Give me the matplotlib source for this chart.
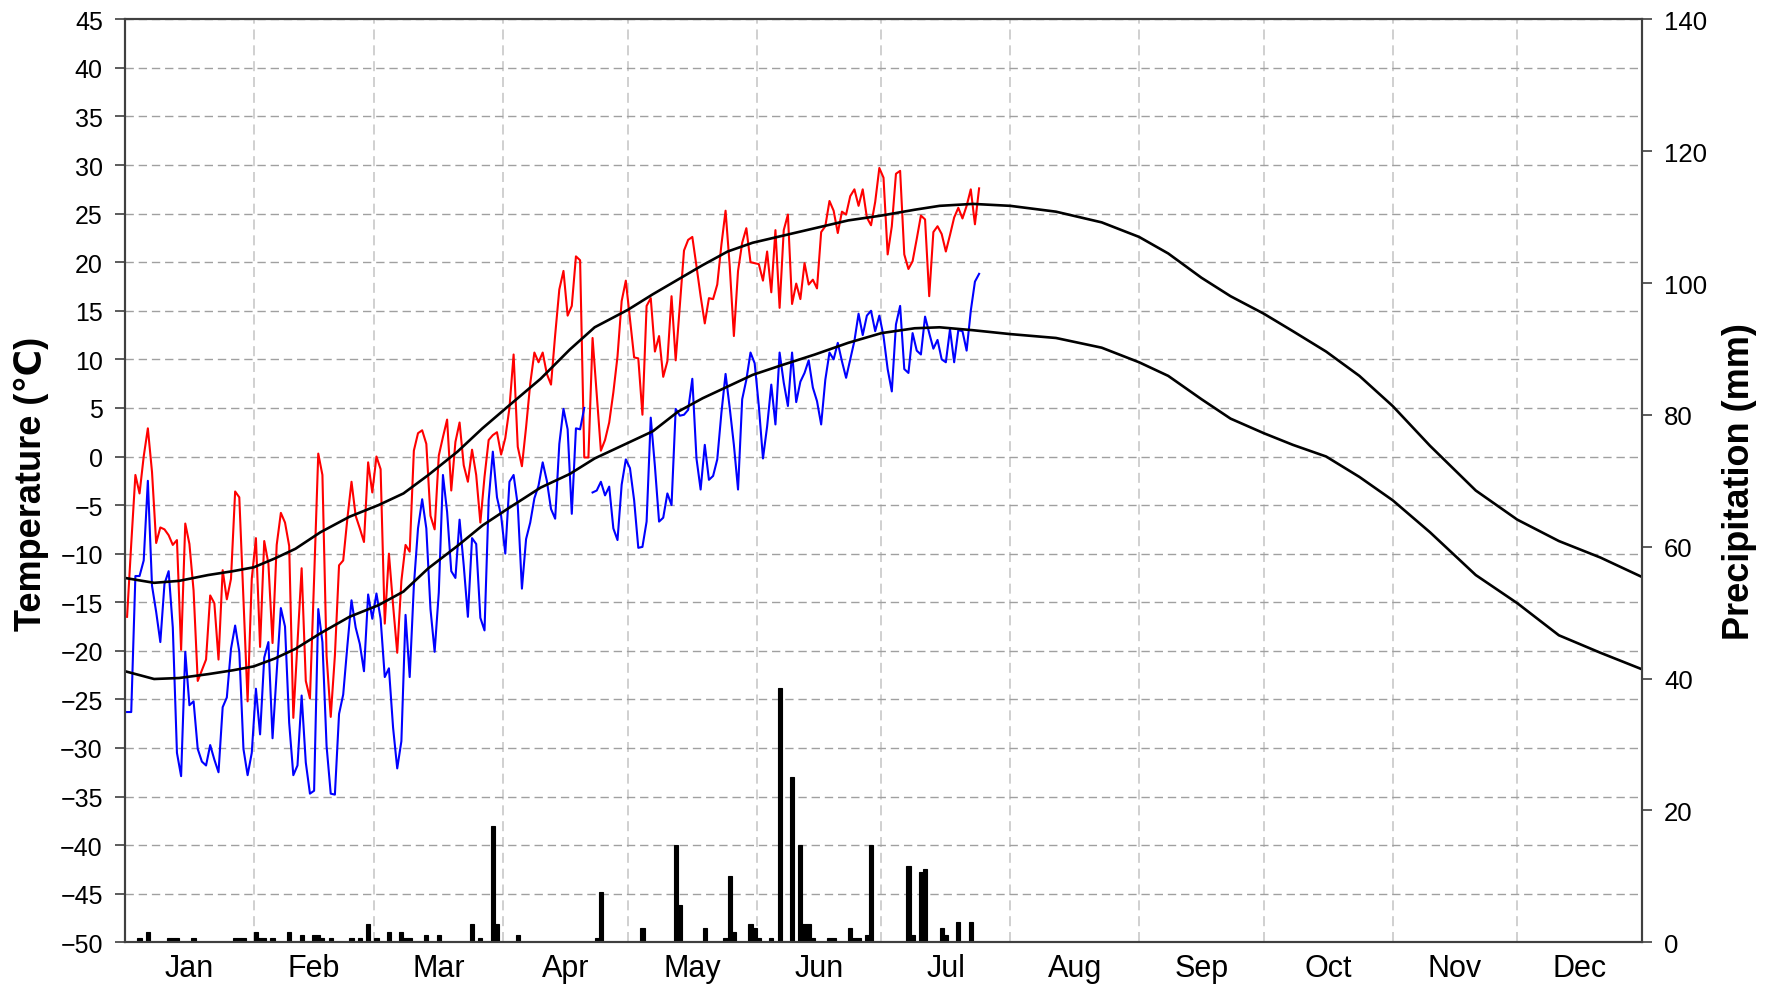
#daily temperature and precipitation for one station, with long-term normals
import numpy as np
import matplotlib
matplotlib.use('Agg')
import matplotlib.pyplot as plt

plt.rcParams['font.family'] = ['Liberation Sans', 'DejaVu Sans']

#daily maximum temperature from Jan 1 (degC)
tmax = [-16.5, -9.0, -1.9, -3.8, 0.0, 2.9, -1.6, -8.9, -7.3, -7.5,
        -8.1, -9.1, -8.6, -19.9, -6.9, -9.0, -13.8, -23.1, -22.0, -20.9,
        -14.3, -15.1, -20.9, -11.7, -14.7, -12.6, -3.6, -4.2, -14.7, -25.2,
        -12.6, -8.4, -19.6, -8.7, -11.0, -19.2, -9.1, -5.8, -6.8, -9.2,
        -26.9, -19.1, -11.5, -23.1, -24.9, -12.6, 0.3, -1.9, -20.5, -26.8,
        -20.5, -11.2, -10.7, -6.4, -2.6, -6.1, -7.4, -8.8, -0.6, -3.7,
        0.0, -1.3, -17.2, -10.0, -15.3, -20.2, -12.8, -9.1, -9.8, 0.6,
        2.4, 2.7, 1.3, -6.1, -7.5, 0.1, 2.0, 3.8, -3.5, 1.5,
        3.5, -0.9, -2.6, 0.7, -1.9, -6.8, -2.1, 1.7, 2.2, 2.5,
        0.2, 1.9, 5.0, 10.5, 1.0, -1.0, 3.0, 7.5, 10.7, 9.7,
        10.7, 8.5, 7.4, 12.5, 17.2, 19.1, 14.5, 15.5, 20.6, 20.2,
        -0.1, -0.1, 12.2, 6.4, 0.6, 1.7, 3.5, 6.6, 10.3, 16.0,
        18.1, 14.1, 10.2, 10.1, 4.3, 15.5, 16.3, 10.8, 12.4, 8.2,
        9.8, 16.5, 9.9, 15.5, 21.2, 22.3, 22.6, 19.6, 16.5, 13.7,
        16.3, 16.2, 17.7, 21.8, 25.3, 19.6, 12.4, 19.1, 22.0, 23.5,
        20.0, 19.9, 19.8, 18.1, 21.1, 16.9, 23.3, 15.3, 23.3, 24.9,
        15.7, 17.8, 16.2, 19.9, 17.7, 18.2, 17.3, 23.1, 23.7, 26.3,
        25.3, 23.0, 25.2, 24.9, 26.8, 27.5, 25.8, 27.5, 24.6, 23.8,
        26.2, 29.7, 28.7, 20.8, 23.7, 29.1, 29.4, 20.8, 19.3, 20.1,
        22.4, 24.8, 24.4, 16.5, 23.1, 23.7, 22.9, 21.1, 22.8, 24.6,
        25.6, 24.5, 25.8, 27.5, 23.9, 27.6]

#daily minimum temperature (degC), nan = missing
tmin = [-26.3, -26.3, -12.3, -12.3, -10.7, -2.5, -13.3, -16.0, -19.1, -13.1,
        -11.8, -17.6, -30.5, -32.9, -20.1, -25.6, -25.2, -30.1, -31.4, -31.8,
        -29.7, -31.2, -32.5, -25.8, -24.8, -19.8, -17.4, -20.1, -30.1, -32.8,
        -30.5, -23.9, -28.6, -20.7, -19.1, -29.0, -22.2, -15.6, -17.5, -27.4,
        -32.8, -31.8, -24.6, -31.5, -34.7, -34.4, -15.7, -19.1, -29.8, -34.7,
        -34.8, -26.5, -24.5, -19.5, -14.8, -17.6, -19.3, -22.1, -14.2, -16.7,
        -14.1, -16.7, -22.7, -21.8, -27.9, -32.1, -29.3, -16.3, -22.7, -13.3,
        -7.4, -4.4, -7.4, -15.7, -20.1, -14.0, -1.9, -5.7, -11.8, -12.5,
        -6.5, -11.2, -16.5, -8.4, -9.0, -16.6, -17.9, -4.5, 0.5, -4.2,
        -6.1, -10.0, -2.6, -1.9, -5.0, -13.6, -8.5, -6.8, -4.3, -3.0,
        -0.6, -2.5, -5.4, -6.4, 1.3, 4.9, 2.8, -5.9, 2.9, 2.8,
        5.0, np.nan, -3.7, -3.5, -2.6, -4.0, -3.1, -7.4, -8.6, -2.9,
        -0.3, -1.2, -4.5, -9.4, -9.3, -6.7, 4.0, -1.0, -6.7, -6.3,
        -3.8, -5.0, 4.9, 4.2, 4.3, 4.8, 8.0, -0.2, -3.4, 1.2,
        -2.4, -2.0, -0.3, 4.5, 8.5, 5.0, 1.2, -3.4, 5.9, 7.9,
        10.7, 9.6, 5.2, -0.2, 3.1, 7.4, 3.3, 10.7, 7.6, 5.2,
        10.7, 5.6, 7.7, 8.6, 9.9, 7.1, 5.7, 3.3, 7.9, 10.7,
        10.0, 11.7, 9.8, 8.1, 10.0, 11.9, 14.7, 12.5, 14.5, 15.0,
        12.9, 14.5, 12.4, 9.0, 6.7, 13.6, 15.5, 9.0, 8.6, 12.7,
        10.9, 10.5, 14.4, 12.7, 11.1, 12.0, 10.0, 9.7, 13.1, 9.7,
        13.0, 12.9, 10.9, 15.0, 18.0, 18.8]

#days with precipitation (day index from Jan 1) and amount (mm)
rain_day = [3, 5, 10, 11, 12, 16, 26, 27, 28, 31, 32, 33, 35, 39, 42, 45, 46, 47,
            49, 54, 56, 58, 60, 63, 66, 67, 68, 72, 75, 83, 85, 88, 89, 94,
            113, 114, 124, 132, 133, 139, 144, 145, 146, 150, 151, 152, 155,
            157, 160, 162, 163, 164, 165, 169, 170, 174, 175, 176, 178, 179,
            188, 189, 191, 192, 196, 197, 200, 203]
rain_mm = [0.6, 1.6, 0.6, 0.6, 0.6, 0.6, 0.6, 0.6, 0.6, 1.6, 0.6, 0.6, 0.6, 1.6, 1.1, 1.1, 1.1, 0.6,
           0.6, 0.6, 0.6, 2.7, 0.6, 1.6, 1.6, 0.6, 0.6, 1.1, 1.1, 2.7, 0.6, 17.6, 2.7, 1.1,
           0.6, 7.7, 2.1, 14.7, 5.6, 2.1, 0.6, 10.1, 1.6, 2.7, 2.1, 0.6, 0.6,
           38.6, 25.1, 14.7, 2.7, 2.7, 0.6, 0.6, 0.6, 2.1, 0.6, 0.6, 1.1, 14.7,
           11.6, 1.1, 10.6, 11.1, 2.1, 1.1, 3.1, 3.1]

#long-term mean max / min temperature
norm_day = [0, 7, 13, 20, 26, 31, 36, 41, 47, 54,
            61, 67, 73, 80, 86, 92, 100, 107, 113, 121,
            127, 133, 139, 145, 151, 158, 166, 174, 182, 190,
            196, 204, 213, 224, 235, 244, 251, 259, 266, 274,
            281, 289, 297, 305, 314, 325, 335, 345, 355, 365]
norm_max = [-12.5, -13.0, -12.8, -12.2, -11.8, -11.4, -10.5, -9.5, -7.8, -6.2,
            -5.0, -3.8, -1.9, 0.5, 2.9, 5.1, 8.0, 11.0, 13.3, 15.1,
            16.7, 18.2, 19.7, 21.1, 22.0, 22.7, 23.5, 24.3, 24.8, 25.4,
            25.8, 26.0, 25.8, 25.2, 24.1, 22.6, 20.9, 18.4, 16.5, 14.7,
            12.9, 10.8, 8.3, 5.2, 1.1, -3.5, -6.5, -8.7, -10.4, -12.4]
norm_min = [-22.1, -22.9, -22.8, -22.4, -22.0, -21.6, -20.8, -19.8, -18.2, -16.5,
            -15.3, -13.9, -11.5, -9.2, -7.1, -5.4, -3.2, -1.8, -0.2, 1.4,
            2.6, 4.6, 6.0, 7.2, 8.4, 9.4, 10.5, 11.7, 12.7, 13.2,
            13.3, 13.0, 12.6, 12.2, 11.2, 9.7, 8.3, 5.9, 3.9, 2.4,
            1.2, 0.0, -2.1, -4.5, -7.8, -12.2, -15.1, -18.4, -20.2, -21.9]

months = ['Jan', 'Feb', 'Mar', 'Apr', 'May', 'Jun', 'Jul', 'Aug', 'Sep', 'Oct', 'Nov', 'Dec']
month_start = [0, 31, 60, 91, 121, 152, 182, 213, 244, 274, 305, 335, 365]

W, H = 1781, 987
fig = plt.figure(figsize=(W/100, H/100), dpi=100)
ax = fig.add_axes([125/W, 1-943.3/H, 1517/W, 923/H])
ax2 = ax.twinx()

days = np.arange(len(tmax)) + 0.5
ax.plot(days, tmax, color='#ff0000', lw=1.5, zorder=3)
ax.plot(days, tmin, color='#0000ff', lw=1.5, zorder=3)
ax.plot(norm_day, norm_max, color='black', lw=1.9, zorder=4)
ax.plot(norm_day, norm_min, color='black', lw=1.9, zorder=4)

ax2.bar(np.array(rain_day) + 0.5, rain_mm, width=1.0, color='black',
        edgecolor='black', linewidth=0.8)

ax.set_xlim(0, 365)
ax.set_ylim(-50, 45)
ax.set_yticks(np.arange(-50, 46, 5))
ax2.set_ylim(0, 140)
ax2.set_yticks(np.arange(0, 141, 20))

#month boundaries as gridlines, names in between
mids = [(a + b) / 2 for a, b in zip(month_start[:-1], month_start[1:])]
ax.set_xticks(month_start[1:-1])
ax.set_xticklabels([])
ax.set_xticks(mids, minor=True)
ax.set_xticklabels(months, minor=True, fontsize=22)
ax.tick_params(axis='x', which='both', length=0)
ax.tick_params(axis='x', which='minor', pad=8)

ax.yaxis.grid(True, color='#a0a0a0', linestyle=(0, (6, 3.5)), lw=1.0)
ax.xaxis.grid(True, color='#c8c8c8', linestyle=(0, (6, 3.5)), lw=1.2)

ax.tick_params(axis='y', direction='out', length=7, width=1.2, color='#404040',
               labelsize=18, pad=9)
ax2.tick_params(axis='y', direction='out', length=7, width=1.2, color='#404040',
                labelsize=18.5, pad=9)
for a in (ax, ax2):
    for s in a.spines.values():
        s.set_color('#404040')
        s.set_linewidth(1.5)

fig.text(31/W, 1-484/H, 'Temperature (\u2103)', rotation=90, ha='center', va='center',
         fontsize=26, fontweight='bold')
fig.text(1740/W, 1-482/H, 'Precipitation (mm)', rotation=90, ha='center', va='center',
         fontsize=26, fontweight='bold')

plt.savefig('out.png', dpi=100)
